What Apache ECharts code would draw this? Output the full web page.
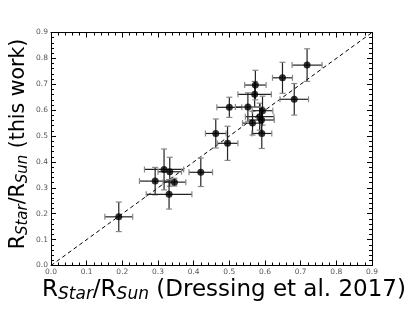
<!DOCTYPE html>
<html><head><meta charset="utf-8">
<script src="https://cdn.jsdelivr.net/npm/echarts@6/dist/echarts.min.js"></script>
<style>html,body{margin:0;padding:0;background:#fff}#c{width:415px;height:312px}</style>
</head><body><div id="c"></div>
<script>
const xVals = [0.19, 0.292, 0.317, 0.333, 0.346, 0.331, 0.420, 0.462, 0.495, 0.500, 0.552, 0.565, 0.571, 0.573, 0.585, 0.590, 0.593, 0.591, 0.649, 0.682, 0.718];
const yVals = [0.188, 0.326, 0.371, 0.362, 0.322, 0.275, 0.360, 0.510, 0.472, 0.611, 0.612, 0.550, 0.661, 0.697, 0.575, 0.562, 0.598, 0.510, 0.725, 0.642, 0.774];
const xErr  = [0.039, 0.044, 0.055, 0.033, 0.032, 0.064, 0.033, 0.029, 0.029, 0.035, 0.035, 0.028, 0.047, 0.030, 0.040, 0.036, 0.029, 0.028, 0.028, 0.040, 0.042];
const yErr  = [0.057, 0.053, 0.079, 0.056, 0.015, 0.057, 0.055, 0.056, 0.066, 0.039, 0.055, 0.046, 0.050, 0.057, 0.052, 0.050, 0.056, 0.058, 0.060, 0.061, 0.063];
const oneToOne = [[0, 0], [0.9, 0.9]];
const tickLabels = ['0.0','0.1','0.2','0.3','0.4','0.5','0.6','0.7','0.8','0.9'];

const FONT = 'DejaVu Sans';
const pts = xVals.map((x, i) => [x, yVals[i], xErr[i], yErr[i]]);

function axisBase(pos, showLabel) {
  return {
    type: 'value', position: pos, min: 0, max: 0.9, interval: 0.1,
    axisLine: { show: true, onZero: false, lineStyle: { color: '#000', width: 1 } },
    axisTick: { show: true, inside: true, length: 5, lineStyle: { color: '#000', width: 1 } },
    minorTick: { show: true, splitNumber: 5, length: 3, lineStyle: { color: '#000', width: 1 } },
    splitLine: { show: false },
    axisLabel: {
      show: showLabel, fontFamily: FONT, fontSize: 7.5, color: '#555', margin: 3,
      formatter: v => tickLabels[Math.round(v * 10)] || ''
    }
  };
}

function titleRich(main, sub) {
  return {
    r: { fontFamily: FONT, fontSize: main, color: '#000', lineHeight: main + 4 },
    s: { fontFamily: FONT, fontSize: sub, fontStyle: 'italic', color: '#000', lineHeight: main + 4, padding: [Math.round(main * 0.42), 0, 0, 0] }
  };
}

const chart = echarts.init(document.getElementById('c'), null, { renderer: 'canvas' });
chart.setOption({
  animation: false,
  grid: { left: 51, right: 43, top: 32.5, bottom: 46.5, containLabel: false },
  xAxis: [axisBase('bottom', true), axisBase('top', false)],
  yAxis: [axisBase('left', true), axisBase('right', false)],
  series: [
    {
      type: 'line', data: oneToOne, xAxisIndex: 0, yAxisIndex: 0, symbol: 'none',
      lineStyle: { color: '#000', width: 1, type: [4, 3] }, silent: true, z: 1
    },
    {
      type: 'custom', xAxisIndex: 0, yAxisIndex: 0, data: pts, z: 2,
      renderItem: function (params, api) {
        const x = api.value(0), y = api.value(1), ex = api.value(2), ey = api.value(3);
        const c = api.coord([x, y]);
        const l = api.coord([x - ex, y]), r = api.coord([x + ex, y]);
        const t = api.coord([x, y + ey]), b = api.coord([x, y - ey]);
        const cap = 3;
        const st = { stroke: '#222', lineWidth: 1.2 };
        const cs = { stroke: '#888', lineWidth: 1.2 };
        return {
          type: 'group', children: [
            { type: 'line', shape: { x1: l[0], y1: c[1], x2: r[0], y2: c[1] }, style: st },
            { type: 'line', shape: { x1: c[0], y1: t[1], x2: c[0], y2: b[1] }, style: st },
            { type: 'line', shape: { x1: l[0], y1: c[1] - cap, x2: l[0], y2: c[1] + cap }, style: cs },
            { type: 'line', shape: { x1: r[0], y1: c[1] - cap, x2: r[0], y2: c[1] + cap }, style: cs },
            { type: 'line', shape: { x1: c[0] - cap, y1: t[1], x2: c[0] + cap, y2: t[1] }, style: cs },
            { type: 'line', shape: { x1: c[0] - cap, y1: b[1], x2: c[0] + cap, y2: b[1] }, style: cs }
          ]
        };
      }
    },
    {
      type: 'scatter', data: pts.map(p => [p[0], p[1]]), symbol: 'circle', symbolSize: 7,
      itemStyle: { color: '#000' }, z: 3
    }
  ],
  graphic: [
    {
      type: 'text', x: 224, y: 290,
      style: {
        text: '{r|R}{s|Star}{r|/R}{s|Sun}{r| (Dressing et al. 2017)}',
        align: 'center', verticalAlign: 'middle',
        rich: titleRich(23, 17)
      }
    },
    {
      type: 'text', x: 19, y: 144, rotation: Math.PI / 2,
      style: {
        text: '{r|R}{s|Star}{r|/R}{s|Sun}{r| (this work)}',
        align: 'center', verticalAlign: 'middle',
        rich: titleRich(20.5, 15)
      }
    }
  ]
});
</script></body></html>
